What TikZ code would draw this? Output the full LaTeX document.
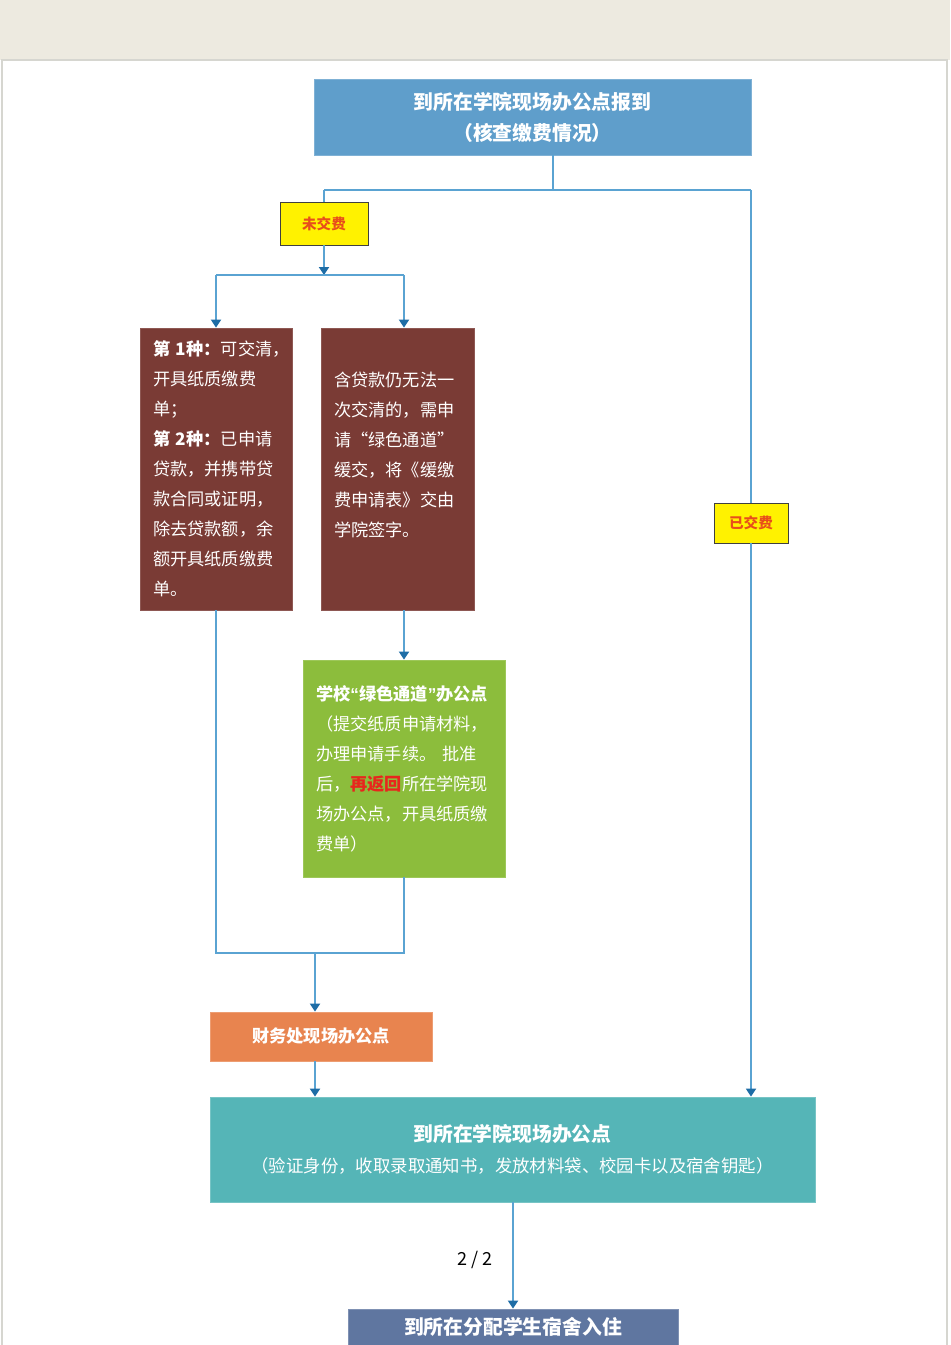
\documentclass[tikz,border=0pt]{standalone}
\usepackage{fontspec}
\setmainfont{Noto Sans CJK SC}
\newfontfamily\quotefont{Liberation Sans}
\usepackage{tikz}
\usetikzlibrary{arrows.meta, positioning, calc}
\definecolor{bandbeige}{HTML}{EDEAE0}
\definecolor{pageline}{HTML}{D6D6D0}
\definecolor{topblue}{HTML}{5F9ECB}
\definecolor{tagyellow}{HTML}{FFF200}
\definecolor{tagred}{HTML}{E84E1B}
\definecolor{optbrown}{HTML}{7A3B35}
\definecolor{greenbox}{HTML}{8CBD3C}
\definecolor{returnred}{HTML}{E8261D}
\definecolor{financeorange}{HTML}{E8844F}
\definecolor{collegeteal}{HTML}{55B5B7}
\definecolor{dormslate}{HTML}{5F76A0}
\definecolor{linkblue}{HTML}{5AA3D2}
\definecolor{tipblue}{HTML}{1E6DA6}

\begin{document}
\begin{tikzpicture}[
    x=0.5pt, y=-0.5pt,
    stagebox/.style={rectangle, draw=#1!80!white, fill=#1, text=white, align=center, inner sep=0pt, font=\fontsize{9.9pt}{15.5pt}\selectfont\bfseries},
    tagbox/.style={rectangle, draw=black!75, fill=tagyellow, text=tagred, inner sep=0pt, font=\fontsize{7.3pt}{9pt}\selectfont\bfseries},
    optbox/.style={rectangle, draw=#1!85!white, fill=#1, text=white, align=left, inner xsep=6.5pt, inner ysep=0pt, font=\fontsize{8.6pt}{15pt}\selectfont},
    line/.style={line width=0.9pt, linkblue},
    arrow/.style={line width=0.9pt, linkblue, -{Triangle[width=5pt, length=4pt, color=tipblue]}}
]
\useasboundingbox (0,0) rectangle (950,1345);
\clip (0,0) rectangle (950,1345);

% Page
\fill[bandbeige] (0,0) rectangle (950,60);
\draw[pageline, line width=0.6pt] (2,1350) -- (2,60) -- (947,60) -- (947,1350);

% Nodes
\node[stagebox=topblue, minimum width=218.5pt, minimum height=38pt] (check) at (532.5,117) {到所在学院现场办公点报到\\（核查缴费情况）};
\node[tagbox, minimum width=44pt, minimum height=21.5pt] (unpaid) at (324,223.5) {未交费};
\node[tagbox, minimum width=37pt, minimum height=20pt] (paid) at (751,523) {已交费};
\node[optbox=optbrown, text width=63pt, minimum height=141pt] (optA) at (216,469) {\textbf{第~1种：}可交清，\\开具纸质缴费\\单；\\\textbf{第~2种：}已申请\\贷款，并携带贷\\款合同或证明，\\除去贷款额，余\\额开具纸质缴费\\单。};
\node[optbox=optbrown, text width=63.5pt, minimum height=141pt] (optB) at (397.5,469) {含贷款仍无法一\\次交清的，需申\\请“绿色通道”\\缓交，将《缓缴\\费申请表》交由\\学院签字。\\\mbox{}};
\node[optbox=greenbox, text width=88pt, minimum height=108.5pt] (green) at (404,768.5) {\textbf{学校{\quotefont“}绿色通道{\quotefont”}办公点}\\（提交纸质申请材料，\\办理申请手续。 批准\\后，\textcolor{returnred}{\textbf{再返回}}所在学院现\\场办公点，开具纸质缴\\费单）};
\node[stagebox=financeorange, minimum width=111pt, minimum height=24.5pt, font=\fontsize{8.6pt}{10pt}\selectfont\bfseries] (finance) at (321,1036.5) {财务处现场办公点};
\node[stagebox=collegeteal, minimum width=302.5pt, minimum height=52.5pt] (college) at (512.5,1149.5) {到所在学院现场办公点\\{\mdseries\fontsize{8.7pt}{17pt}\selectfont（验证身份，收取录取通知书，发放材料袋、校园卡以及宿舍钥匙）}};
\node[stagebox=dormslate, minimum width=165pt, minimum height=18pt] (dorm) at (513,1327) {到所在分配学生宿舍入住};
\node[font=\fontsize{9pt}{10pt}\selectfont] (pagenum) at (475,1260) {2 / 2};

% Arrows
\coordinate (split) at (553,190);
\coordinate (fork) at (324,275);
\coordinate (merge) at (315,953);
\draw[line] (check.south -| split) -- (split);
\draw[line] (unpaid.north |- split) -- (paid.north |- split);
\draw[line] (unpaid.north |- split) -- (unpaid.north);
\draw[line] (paid.north |- split) -- (paid.north);
\draw[arrow] (unpaid.south) -- (fork);
\draw[line] (fork -| optA) -- (fork -| green);
\draw[arrow] (fork -| optA) -- (optA.north);
\draw[arrow] (fork -| green) -- (green.north |- optB.north);
\draw[arrow] (green.north |- optB.south) -- (green.north);
\draw[line] (optA.south) |- (green.south |- merge) -- (green.south);
\draw[arrow] (merge) -- (merge |- finance.north);
\draw[arrow] (finance.south -| merge) -- (college.north -| merge);
\draw[arrow] (paid.south) -- (paid.south |- college.north);
\draw[arrow] (college.south -| dorm) -- (dorm.north);

\end{tikzpicture}
\end{document}
